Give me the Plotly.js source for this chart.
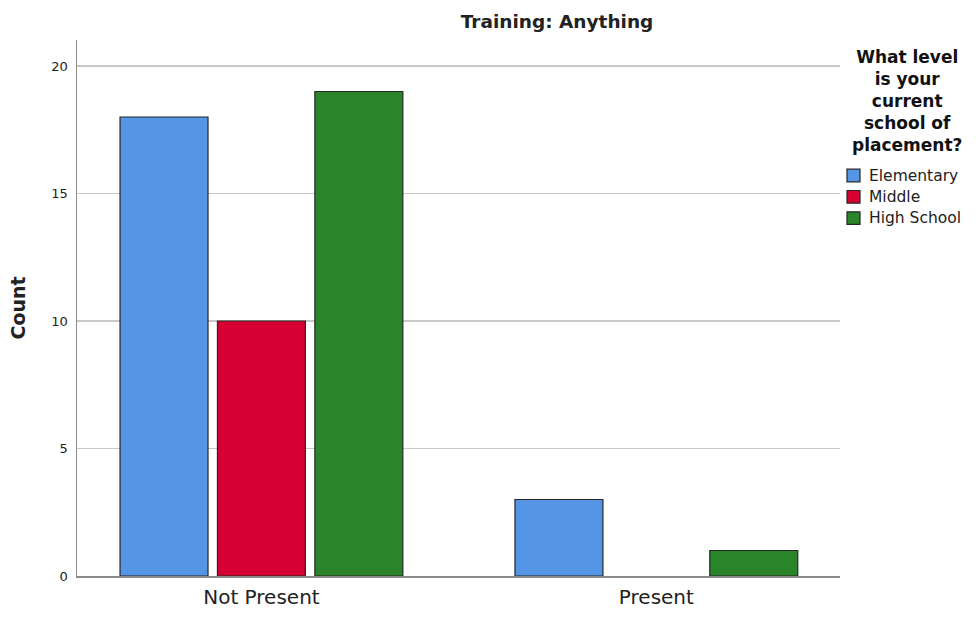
<!DOCTYPE html>
<html>
<head>
<meta charset="utf-8">
<script src="https://cdn.plot.ly/plotly-3.0.1.min.js"></script>
<style>html,body{margin:0;padding:0;background:#fff;}#chart{width:980px;height:624px;}</style>
</head>
<body>
<div id="chart"></div>
<script>
const categories = ["Not Present", "Present"];
const seriesNames = ["Elementary", "Middle", "High School"];
const elementary = [18, 3];
const middle = [10, 0];
const highSchool = [19, 1];
const yTicks = [0, 5, 10, 15, 20];
const colors = ["#5495e6", "#d60032", "#2a842a"];

const FONT = "DejaVu Sans, Verdana, sans-serif";
const values = [elementary, middle, highSchool];
const traces = seriesNames.map((name, i) => ({
  type: "bar",
  name: name,
  x: categories,
  y: values[i],
  marker: {color: colors[i], line: {color: "#262626", width: values[i].map(v => v === 0 ? 0 : 1.2)}},
  hoverinfo: "x+y+name",
  showlegend: false
}));

const L = 77, R = 140, T = 40, B = 48;
const plotW = 980 - L - R, plotH = 624 - T - B;
const px = x => (x - L) / plotW;
const py = y => 1 - (y - T) / plotH;

// custom legend (glyphs + labels)
const legendShapes = [];
const legendAnns = [];
seriesNames.forEach((name, i) => {
  const cy = 175.5 + i * 21.3;
  legendShapes.push({
    type: "rect", xref: "paper", yref: "paper",
    x0: px(847), x1: px(860), y0: py(cy - 6.3), y1: py(cy + 6.3),
    fillcolor: colors[i], line: {color: "#262626", width: 1.2}
  });
  legendAnns.push({
    text: name, xref: "paper", yref: "paper",
    x: px(867), y: py(cy), xanchor: "left", yanchor: "middle",
    showarrow: false, font: {family: FONT, size: 15.5, color: "#222"}
  });
});

const layout = {
  width: 980, height: 624,
  margin: {l: L, r: R, t: T, b: B, autoexpand: false},
  paper_bgcolor: "#fff", plot_bgcolor: "#fff",
  font: {family: FONT, color: "#222"},
  barmode: "group",
  bargap: 0.26,
  bargroupgap: 0.097,
  title: {text: "<b>Training: Anything</b>", x: 557/980, xref: "container", xanchor: "center",
          y: 1 - 22/624, yref: "container", yanchor: "middle",
          font: {family: FONT, size: 18.5, color: "#222"}},
  xaxis: {
    type: "category",
    range: [-0.467, 1.465],
    showline: true, linecolor: "#8c8c8c", linewidth: 1.5,
    showgrid: false, zeroline: false,
    ticks: "outside", ticklen: 2, tickcolor: "rgba(0,0,0,0)",
    tickfont: {family: FONT, size: 20, color: "#222"},
    fixedrange: true
  },
  yaxis: {
    range: [0, 21.02],
    tickvals: yTicks,
    ticktext: yTicks.map(String),
    showline: true, linecolor: "#8c8c8c", linewidth: 1.5,
    showgrid: true, gridcolor: "#c8c8c8", gridwidth: 1.5,
    zeroline: false,
    ticks: "outside", ticklen: 5, tickcolor: "rgba(0,0,0,0)",
    tickfont: {family: FONT, size: 13, color: "#222"},
    title: {text: "<b>Count</b>", font: {family: FONT, size: 19, color: "#222"}, standoff: 20},
    fixedrange: true
  },
  showlegend: false,
  shapes: legendShapes,
  annotations: [{
    text: "<b>What level<br>is your<br>current<br>school of<br>placement?</b>",
    xref: "paper", yref: "paper",
    x: px(907), y: py(100.5),
    xanchor: "center", yanchor: "middle",
    showarrow: false,
    font: {family: FONT, size: 17, color: "#111"}, align: "center"
  }].concat(legendAnns)
};

Plotly.newPlot("chart", traces, layout, {displayModeBar: false, staticPlot: true});
</script>
</body>
</html>
